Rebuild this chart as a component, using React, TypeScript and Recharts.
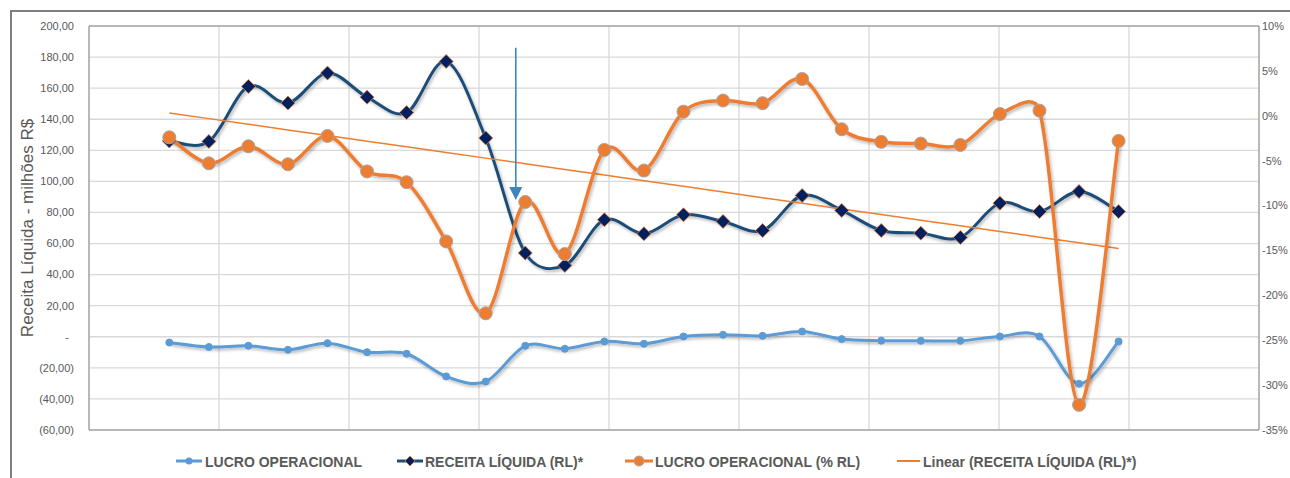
import React from 'react';
import {
  ComposedChart,
  Line,
  XAxis,
  YAxis,
  CartesianGrid,
  ReferenceLine,
  ReferenceArea,
} from 'recharts';

// ---------- data ----------
const categories = [1, 2, 3, 4, 5, 6, 7, 8, 9, 10, 11, 12, 13, 14, 15, 16, 17, 18, 19, 20, 21, 22, 23, 24, 25];

const lucroOperacional = [-3.7, -6.6, -5.8, -8.4, -4.1, -9.9, -10.9, -25.5, -28.8, -5.8, -7.7, -3.0, -4.5, 0.2, 1.3, 0.6, 3.4, -1.5, -2.5, -2.6, -2.6, 0.2, 0.2, -30.2, -3.0];

const receitaLiquida = [126.0, 125.7, 161.1, 150.4, 169.7, 154.2, 144.3, 177.2, 127.9, 53.9, 45.9, 75.3, 66.3, 78.5, 74.2, 68.4, 90.9, 81.3, 68.4, 66.7, 63.9, 86.0, 80.6, 93.5, 80.6];

const lucroPct = [-2.4, -5.3, -3.4, -5.4, -2.25, -6.2, -7.4, -14.0, -22.0, -9.6, -15.4, -3.8, -6.1, 0.46, 1.7, 1.4, 4.1, -1.5, -2.9, -3.1, -3.25, 0.2, 0.57, -32.2, -2.8];

const leftTicks = [-60, -40, -20, 0, 20, 40, 60, 80, 100, 120, 140, 160, 180, 200];
const rightTicks = [-35, -30, -25, -20, -15, -10, -5, 0, 5, 10];

const seriesNames = {
  lo: 'LUCRO OPERACIONAL',
  rl: 'RECEITA LÍQUIDA (RL)*',
  pct: 'LUCRO OPERACIONAL (% RL)',
  trend: 'Linear (RECEITA LÍQUIDA (RL)*)',
};

const yTitle = 'Receita Líquida - milhões R$';

// annotation arrow (in data units of the left axis)
const arrowX = 9.76;
const arrowTop = 186;
const arrowTip = 88;

// ---------- colours ----------
const C_LO = '#5B9BD5';
const C_RL = '#1F4E79';
const C_RL_MARK = '#002060';
const C_ORANGE = '#ED7D31';
const C_TEXT = '#595959';
const C_GRID = '#D9D9D9';
const FONT = '"Liberation Sans", Arial, sans-serif';

// linear trendline of receita líquida (least squares, like Excel's trendline)
const n = categories.length;
const mx = categories.reduce((a, b) => a + b, 0) / n;
const my = receitaLiquida.reduce((a, b) => a + b, 0) / n;
let sxy = 0;
let sxx = 0;
categories.forEach((x, i) => {
  sxy += (x - mx) * (receitaLiquida[i] - my);
  sxx += (x - mx) * (x - mx);
});
const slope = sxy / sxx;
const intercept = my - slope * mx;

const data = categories.map((x, i) => ({
  x,
  lo: lucroOperacional[i],
  rl: receitaLiquida[i],
  pct: lucroPct[i],
  trend: intercept + slope * x,
}));

const xDomain: [number, number] = [-1.03, 28.55];
const gridTicks = Array.from({ length: 10 }, (_, k) => xDomain[0] + (k * (xDomain[1] - xDomain[0])) / 9);

// Excel-like smoothed line: bezier with 1/6 tangents, clamped to half the segment length
function excelSmooth(context: any) {
  let pts: [number, number][] = [];
  const dist = (a: [number, number], b: [number, number]) => Math.hypot(b[0] - a[0], b[1] - a[1]);
  return {
    areaStart() {},
    areaEnd() {},
    lineStart() {
      pts = [];
    },
    point(x: number, y: number) {
      pts.push([+x, +y]);
    },
    lineEnd() {
      if (!pts.length) return;
      context.moveTo(pts[0][0], pts[0][1]);
      for (let i = 0; i < pts.length - 1; i++) {
        const p1 = pts[i];
        const p2 = pts[i + 1];
        const p0 = i > 0 ? pts[i - 1] : p1;
        const p3 = i + 2 < pts.length ? pts[i + 2] : p2;
        const d12 = dist(p1, p2);
        const d02 = dist(p0, p2);
        const d13 = dist(p1, p3);
        let f0 = 1 / 6;
        let f3 = 1 / 6;
        if (d02 > 0 && d02 / 6 > d12 / 2) f0 = d12 / (2 * d02);
        if (d13 > 0 && d13 / 6 > d12 / 2) f3 = d12 / (2 * d13);
        context.bezierCurveTo(
          p1[0] + f0 * (p2[0] - p0[0]),
          p1[1] + f0 * (p2[1] - p0[1]),
          p2[0] - f3 * (p3[0] - p1[0]),
          p2[1] - f3 * (p3[1] - p1[1]),
          p2[0],
          p2[1]
        );
      }
    },
  };
}

const fmtLeft = (v: number) => {
  if (v === 0) return '-';
  const s = Math.abs(v).toFixed(2).replace('.', ',');
  return v < 0 ? `(${s})` : s;
};

const LeftTick = (props: any) => {
  const { x, y, payload } = props;
  const v = payload.value;
  return (
    <text x={v === 0 ? x - 5 : x} y={y} dy="0.35em" textAnchor="end" fontSize={11} fill={C_TEXT} fontFamily={FONT}>
      {fmtLeft(v)}
    </text>
  );
};

const RightTick = (props: any) => {
  const { x, y, payload } = props;
  return (
    <text x={x} y={y} dy="0.35em" textAnchor="start" fontSize={11} fill={C_TEXT} fontFamily={FONT}>
      {`${payload.value}%`}
    </text>
  );
};

const DiamondDot = (props: any) => {
  const { cx, cy } = props;
  if (cx == null || cy == null) return null;
  const s = 7;
  return (
    <path
      d={`M${cx},${cy - s}L${cx + s},${cy}L${cx},${cy + s}L${cx - s},${cy}Z`}
      fill={C_RL_MARK}
      stroke={C_ORANGE}
      strokeWidth={0.8}
    />
  );
};

const ArrowShape = (props: any) => {
  const { x1, y1, x2, y2 } = props;
  const head = 13;
  const hw = 6.5;
  return (
    <g>
      <line x1={x1} y1={y1} x2={x2} y2={y2 - head + 1} stroke="#3F86BD" strokeWidth={1.6} />
      <polygon points={`${x2 - hw},${y2 - head} ${x2 + hw},${y2 - head} ${x2},${y2}`} fill="#3F86BD" />
    </g>
  );
};

const Legend = () => {
  const cy = 461;
  const ty = 466.5;
  const textProps = { fontSize: 14, fontWeight: 700, fill: C_TEXT, fontFamily: FONT };
  return (
    <svg width={1290} height={478} style={{ position: 'absolute', left: 0, top: 0, pointerEvents: 'none' }}>
      <line x1={176} y1={cy} x2={202} y2={cy} stroke={C_LO} strokeWidth={3} />
      <circle cx={189} cy={cy} r={3.5} fill={C_LO} />
      <text x={205} y={ty} {...textProps}>{seriesNames.lo}</text>

      <line x1={397} y1={cy} x2={423} y2={cy} stroke={C_RL} strokeWidth={3} />
      <path d={`M410,${cy - 5}L415,${cy}L410,${cy + 5}L405,${cy}Z`} fill={C_RL_MARK} stroke={C_ORANGE} strokeWidth={0.8} />
      <text x={425} y={ty} {...textProps}>{seriesNames.rl}</text>

      <line x1={625} y1={cy} x2={653} y2={cy} stroke={C_ORANGE} strokeWidth={3} />
      <circle cx={639} cy={cy} r={5} fill={C_ORANGE} stroke="#A5A5A5" strokeWidth={1} />
      <text x={655} y={ty} {...textProps}>{seriesNames.pct}</text>

      <line x1={897} y1={cy} x2={920} y2={cy} stroke={C_ORANGE} strokeWidth={2} />
      <text x={923} y={ty} {...textProps}>{seriesNames.trend}</text>
    </svg>
  );
};

export default function App() {
  return (
    <div style={{ position: 'fixed', left: 0, top: 0, width: 1290, height: 478, overflow: 'hidden', background: '#fff' }}>
      <svg width={0} height={0} style={{ position: 'absolute' }}>
        <defs>
          <filter id="sh" filterUnits="userSpaceOnUse" x={0} y={0} width={1290} height={478}>
            <feDropShadow dx={1.5} dy={2} stdDeviation={1.5} floodColor="#000" floodOpacity={0.28} />
          </filter>
        </defs>
      </svg>
      <style>{`.shadowed { filter: url(#sh); }`}</style>
      <div
        style={{
          position: 'absolute',
          left: 10,
          top: 10,
          width: 1300,
          height: 500,
          borderLeft: '2.5px solid #7F7F7F',
          borderTop: '2.5px solid #7F7F7F',
          boxSizing: 'border-box',
        }}
      />
      <div style={{ position: 'absolute', left: 0, top: 0 }}>
        <ComposedChart width={1290} height={478} data={data} margin={{ top: 26, right: 0, bottom: 48, left: 0 }}>
          <CartesianGrid yAxisId="left" stroke={C_GRID} strokeWidth={1.3} horizontal vertical />
          <XAxis
            dataKey="x"
            type="number"
            domain={xDomain}
            ticks={gridTicks}
            interval={0}
            allowDataOverflow
            hide
          />
          <YAxis
            yAxisId="left"
            orientation="left"
            width={89}
            domain={[-60, 200]}
            ticks={leftTicks}
            interval={0}
            axisLine={false}
            tickLine={false}
            tickSize={0}
            tickMargin={15}
            tick={<LeftTick />}
            label={{
              value: yTitle,
              angle: -90,
              position: 'insideLeft',
              offset: 27,
              style: { textAnchor: 'middle', fontSize: 17, fill: C_TEXT, fontFamily: FONT },
            }}
          />
          <YAxis
            yAxisId="pct"
            orientation="right"
            width={31}
            domain={[-35, 10]}
            ticks={rightTicks}
            interval={0}
            axisLine={false}
            tickLine={false}
            tickSize={0}
            tickMargin={3}
            tick={<RightTick />}
          />
          <ReferenceArea
            yAxisId="left"
            x1={xDomain[0]}
            x2={xDomain[1]}
            y1={-60}
            y2={200}
            fill="none"
            stroke="#8C8C8C"
            strokeWidth={1}
          />
          <Line
            yAxisId="left"
            dataKey="lo"
            name={seriesNames.lo}
            type={excelSmooth as any}
            stroke={C_LO}
            strokeWidth={3}
            dot={{ r: 3.5, fill: C_LO, stroke: C_LO, strokeWidth: 1 }}
            activeDot={false}
            className="shadowed"
            isAnimationActive={false}
          />
          <Line
            yAxisId="left"
            dataKey="rl"
            name={seriesNames.rl}
            type={excelSmooth as any}
            stroke={C_RL}
            strokeWidth={3}
            dot={<DiamondDot />}
            activeDot={false}
            className="shadowed"
            isAnimationActive={false}
          />
          <Line
            yAxisId="left"
            dataKey="trend"
            name={seriesNames.trend}
            type="linear"
            stroke={C_ORANGE}
            strokeWidth={1.5}
            dot={false}
            activeDot={false}
            isAnimationActive={false}
          />
          <Line
            yAxisId="pct"
            dataKey="pct"
            name={seriesNames.pct}
            type={excelSmooth as any}
            stroke={C_ORANGE}
            strokeWidth={3.5}
            dot={{ r: 6.5, fill: C_ORANGE, stroke: '#A5A5A5', strokeWidth: 1 }}
            activeDot={false}
            className="shadowed"
            isAnimationActive={false}
          />
          <ReferenceLine
            yAxisId="left"
            segment={[
              { x: arrowX, y: arrowTop },
              { x: arrowX, y: arrowTip },
            ]}
            shape={ArrowShape}
          />
        </ComposedChart>
      </div>
      <Legend />
    </div>
  );
}
